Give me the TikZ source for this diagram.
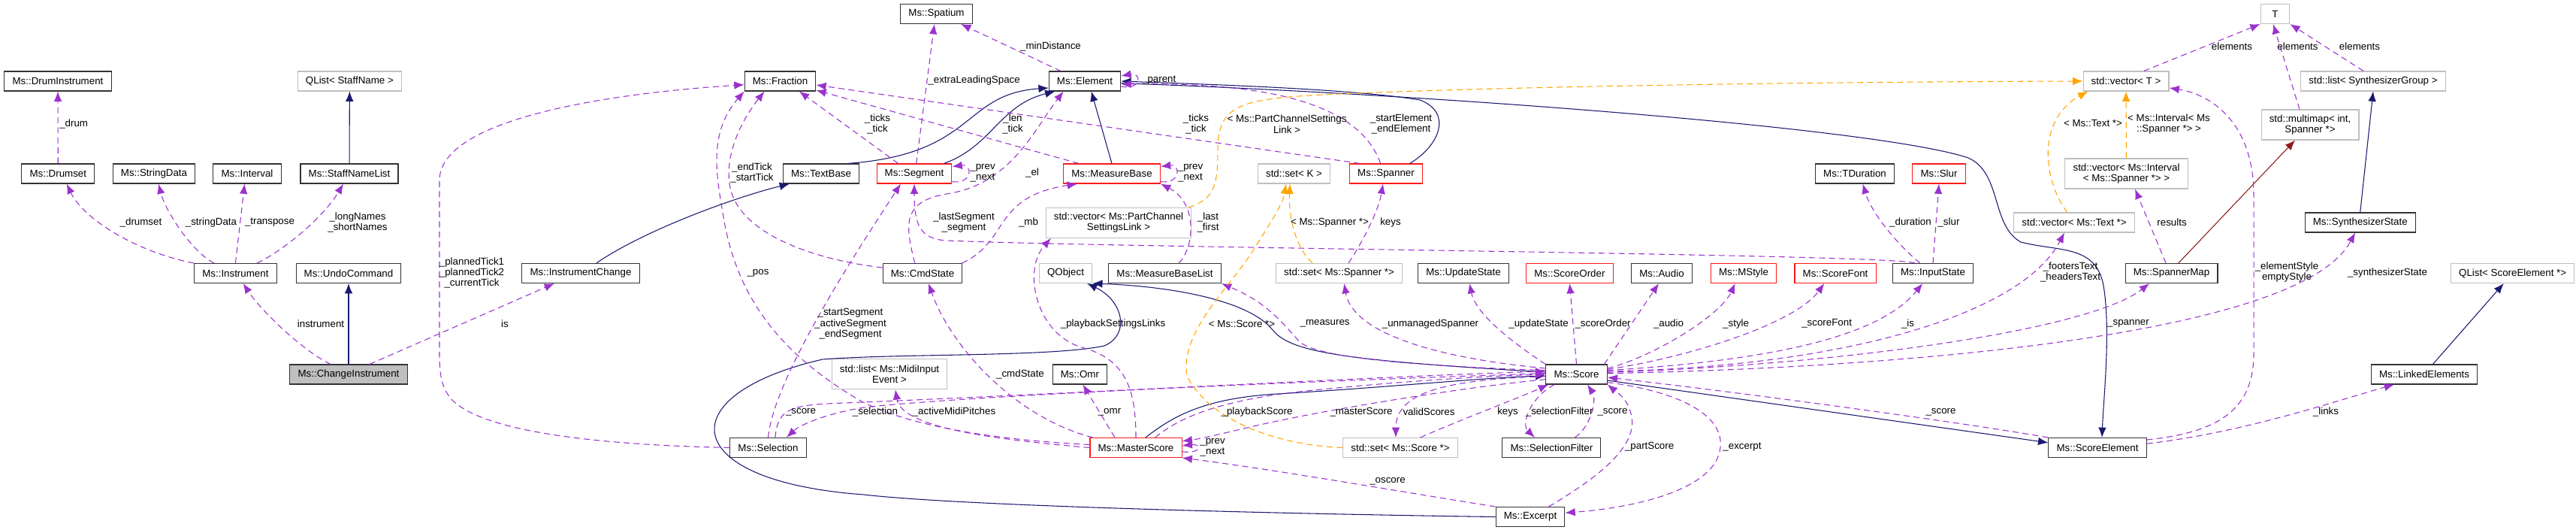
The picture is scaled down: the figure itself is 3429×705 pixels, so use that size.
\documentclass[tikz,border=0pt]{standalone}
\usepackage{fontspec}
\setmainfont{Liberation Sans}
\usepackage{tikz}
\usetikzlibrary{arrows.meta}

\definecolor{relcol}{HTML}{9A32CD}
\definecolor{tplcol}{HTML}{FFA500}
\definecolor{inhcol}{HTML}{191970}
\definecolor{privcol}{HTML}{8B1A1A}

\tikzset{
  cls/.style={draw=black!80, line width=0.8pt, fill=white, inner xsep=8pt, inner ysep=0pt,
    minimum height=19.5pt, align=center, font=\fontsize{10}{10.8}\selectfont},
  clsred/.style={cls, draw=red!90},
  clsext/.style={cls, draw=black!25},
  clsmain/.style={cls, fill=black!25},
  twoline/.style={minimum height=30pt},
  rel/.style={draw=relcol, line width=0.8pt, dash pattern=on 6pt off 4pt, -{Latex[length=10pt,width=8pt]}},
  tpl/.style={rel, draw=tplcol},
  inh/.style={draw=inhcol, line width=0.8pt, -{Latex[length=10pt,width=8pt]}},
  priv/.style={inh, draw=privcol},
  lbl/.style={font=\fontsize{10}{10.8}\selectfont, align=center, inner sep=0pt}
}

\begin{document}
\begin{tikzpicture}[x=0.75pt, y=-0.75pt]
\useasboundingbox (0,0) rectangle (3429,705);
% classi
\node[cls] (drumInstr) at (77,108) {Ms::DrumInstrument};
\node[clsext] (qlistStaff) at (465.4,108) {QList< StaffName >};
\node[cls] (drumset) at (77.3,231) {Ms::Drumset};
\node[cls] (stringData) at (205,231) {Ms::StringData};
\node[cls] (interval) at (329,231) {Ms::Interval};
\node[cls] (staffNameList) at (465,231) {Ms::StaffNameList};
\node[cls] (instrument) at (313.4,363.5) {Ms::Instrument};
\node[cls] (undoCmd) at (464,363.5) {Ms::UndoCommand};
\node[clsmain] (changeInstr) at (464,498) {Ms::ChangeInstrument};
\node[cls] (instrChange) at (773,363.5) {Ms::InstrumentChange};
\node[cls] (fraction) at (1038.5,108) {Ms::Fraction};
\node[cls] (textBase) at (1093,231) {Ms::TextBase};
\node[cls] (selection) at (1022.5,595.5) {Ms::Selection};
\node[cls] (spatium) at (1246.5,18.5) {Ms::Spatium};
\node[cls] (element) at (1444,108) {Ms::Element};
\node[clsred] (segment) at (1217,231) {Ms::Segment};
\node[clsred] (measureBase) at (1480,231) {Ms::MeasureBase};
\node[clsext,twoline] (vecPCSL) at (1489,296.3) {std::vector< Ms::PartChannel\\SettingsLink >};
\node[cls] (cmdState) at (1228,363.5) {Ms::CmdState};
\node[clsext] (qobject) at (1418.5,363.5) {QObject};
\node[cls] (mbList) at (1550.5,363.5) {Ms::MeasureBaseList};
\node[clsext,twoline] (listMidi) at (1184,497.7) {std::list< Ms::MidiInput\\Event >};
\node[cls] (omr) at (1437.4,498) {Ms::Omr};
\node[clsred] (masterScore) at (1512,595.5) {Ms::MasterScore};
\node[clsred] (spanner) at (1845,231) {Ms::Spanner};
\node[clsext] (setK) at (1722.5,231) {std::set< K >};
\node[clsext] (setSpanner) at (1782.5,363.5) {std::set< Ms::Spanner *>};
\node[cls] (updateState) at (1948,363.5) {Ms::UpdateState};
\node[clsred] (scoreOrder) at (2089.4,363.5) {Ms::ScoreOrder};
\node[cls] (audio) at (2212,363.5) {Ms::Audio};
\node[clsred] (mstyle) at (2321,363.5) {Ms::MStyle};
\node[clsred] (scoreFont) at (2443,363.5) {Ms::ScoreFont};
\node[cls] (inputState) at (2573,363.5) {Ms::InputState};
\node[cls] (score) at (2098.5,498) {Ms::Score};
\node[clsext] (setScore) at (1864,595.5) {std::set< Ms::Score *>};
\node[cls] (selFilter) at (2065.4,595.5) {Ms::SelectionFilter};
\node[cls] (excerpt) at (2037,687.5) {Ms::Excerpt};
\node[cls] (tduration) at (2469,231) {Ms::TDuration};
\node[clsred] (slur) at (2581,231) {Ms::Slur};
\node[clsext] (vecText) at (2761,296) {std::vector< Ms::Text *>};
\node[clsext,twoline] (vecInterval) at (2830.5,231) {std::vector< Ms::Interval\\< Ms::Spanner *> >};
\node[clsext] (vecT) at (2830,108) {std::vector< T >};
\node[clsext, minimum width=29pt] (tT) at (3028.5,18.5) {T};
\node[clsext] (listSynth) at (3159,108) {std::list< SynthesizerGroup >};
\node[clsext,twoline] (multimap) at (3075,166) {std::multimap< int,\\Spanner *>};
\node[cls] (spannerMap) at (2890.5,363.5) {Ms::SpannerMap};
\node[cls] (synthState) at (3141.7,296) {Ms::SynthesizerState};
\node[clsext] (qlistSE) at (3344.6,363.5) {QList< ScoreElement *>};
\node[cls] (linkedElems) at (3227,498) {Ms::LinkedElements};
\node[cls] (scoreElem) at (2792,595.5) {Ms::ScoreElement};
% ereditarieta'
\draw[inh] (staffNameList) -- (qlistStaff);
\draw[inh] (changeInstr) -- (undoCmd);
\draw[inh] ([xshift=15.6pt]instrChange.north) .. controls (860,305) and (980,262) .. ([xshift=-31.5pt]textBase.south);
\draw[inh] ([xshift=26.7pt]textBase.north) .. controls (1300,205) and (1280,125) .. ([yshift=-6.75pt]element.west);
\draw[inh] ([xshift=29.6pt]segment.north) .. controls (1320,195) and (1330,140) .. ([xshift=-29.6pt]element.south);
\draw[inh] (measureBase.north) -- ([xshift=6.5pt]element.south);
\draw[inh] ([xshift=23.6pt]spanner.north) .. controls (1915,195) and (1935,150) .. (1890,133) .. controls (1800,118) and (1600,112) .. (element.east);
\draw[inh] ([yshift=-2pt]element.east) .. controls (1900,125) and (2500,170) .. (2620,210) .. controls (2665,230) and (2650,300) .. (2690,322) .. controls (2740,335) and (2790,325) .. (2800,380) .. controls (2810,440) and (2800,530) .. ([xshift=4.5pt]scoreElem.north);
\draw[inh] (excerpt.west) .. controls (1800,685) and (1300,675) .. (1150,658) .. controls (900,640) and (890,525) .. (1095,478) .. controls (1200,470) and (1400,475) .. (1470,460) .. controls (1505,445) and (1495,400) .. ([xshift=21.4pt]qobject.south);
\draw[inh] ([yshift=2.25pt]score.west) .. controls (1800,480) and (1720,470) .. (1695,440) .. controls (1660,395) and (1540,380) .. (qobject.south east);
\draw[inh] ([xshift=9.6pt]masterScore.north) .. controls (1560,555) and (1600,530) .. (1700,524) .. controls (1850,515) and (1980,502) .. ([yshift=-1.5pt]score.west);
\draw[inh] ([yshift=-6pt]score.east) -- ([yshift=5pt]scoreElem.west);
\draw[priv] ([xshift=7pt]spannerMap.north) -- ([xshift=-15pt]multimap.south);
\draw[inh] (synthState.north) -- (listSynth.south);
\draw[inh] ([xshift=8.6pt]linkedElems.north) -- ([xshift=-8.9pt]qlistSE.south);
% relazioni d'uso
\draw[rel] (drumset) -- (drumInstr);
\draw[rel] (instrument.north west) .. controls (180,335) and (110,290) .. ([xshift=8.6pt]drumset.south);
\draw[rel] ([xshift=-21.3pt]instrument.north) .. controls (255,335) and (220,280) .. ([xshift=4.5pt]stringData.south);
\draw[rel] (instrument.north) -- ([xshift=-2.5pt]interval.south);
\draw[rel] ([xshift=21.5pt]instrument.north) .. controls (375,335) and (430,290) .. ([xshift=-6pt]staffNameList.south);
\draw[rel] ([xshift=-18pt]changeInstr.north) .. controls (400,465) and (345,410) .. ([xshift=7.7pt]instrument.south);
\draw[rel] ([xshift=21pt]changeInstr.north) -- ([xshift=-26.3pt]instrChange.south);
\draw[rel] (selection.west) .. controls (800,592) and (640,575) .. (600,530) .. controls (588,515) and (585,500) .. (585,470) -- (585,240) .. controls (585,160) and (800,125) .. ([yshift=-3.5pt]fraction.west);
\draw[rel] ([yshift=5.6pt]cmdState.west) .. controls (1080,345) and (985,310) .. (972,250) .. controls (962,200) and (995,150) .. ([xshift=-15.7pt]fraction.south);
\draw[rel] ([yshift=3pt]masterScore.west) .. controls (1320,585) and (1200,565) .. (1140,530) .. controls (1040,470) and (985,400) .. (965,300) .. controls (955,240) and (940,180) .. (fraction.south west);
\draw[rel] ([xshift=-16pt]segment.north) -- ([xshift=19pt]fraction.south);
\draw[rel] ([xshift=-33pt]measureBase.north) -- ([yshift=-9pt]fraction.east);
\draw[rel] ([xshift=-26pt]spanner.north) -- ([yshift=-3.75pt]fraction.east);
\draw[rel] ([xshift=2pt]segment.north) -- ([xshift=-2pt]spatium.south);
\draw[rel] ([xshift=-24pt]element.north) -- ([xshift=24.4pt]spatium.south);
\draw[rel] ([yshift=-5.25pt]element.east) .. controls (1520,120) and (1520,96) .. ([yshift=5.25pt]element.east);
\draw[rel] ([yshift=-8pt]segment.east) .. controls (1295,245) and (1295,218) .. ([yshift=7pt]segment.east);
\draw[rel] ([yshift=-8pt]measureBase.east) .. controls (1572,245) and (1572,218) .. ([yshift=7pt]measureBase.east);
\draw[rel] ([xshift=-5.5pt]spanner.north) .. controls (1805,125) and (1650,110) .. ([yshift=-3pt]element.east);
\draw[rel] ([xshift=-7.7pt]cmdState.north) .. controls (1205,300) and (1200,268) .. (1260,258) .. controls (1345,245) and (1375,175) .. ([xshift=-21.3pt]element.south);
\draw[rel] ([xshift=39.5pt]cmdState.north) .. controls (1345,320) and (1320,262) .. ([xshift=-34.5pt]measureBase.south);
\draw[rel] ([xshift=-18pt]inputState.north) .. controls (2520,338) and (1500,330) .. (1260,320) .. controls (1225,318) and (1217,300) .. (segment.south);
\draw[rel] ([xshift=13.9pt]mbList.north) .. controls (1590,330) and (1595,270) .. (measureBase.south east);
\draw[rel] (masterScore.north) .. controls (1512,520) and (1500,478) .. (1440,462) .. controls (1380,445) and (1360,360) .. ([xshift=-67.5pt]vecPCSL.south);
\draw[rel] ([xshift=-43pt]masterScore.north) .. controls (1350,555) and (1265,460) .. ([xshift=6pt]cmdState.south);
\draw[rel] ([xshift=-21pt]masterScore.north) -- ([xshift=3pt]omr.south);
\draw[rel] (masterScore.west) .. controls (1330,585) and (1200,570) .. ([xshift=5.9pt]listMidi.south);
\draw[rel] ([yshift=-4pt]masterScore.east) .. controls (1600,604) and (1600,590) .. ([yshift=2pt]masterScore.east);
\draw[rel] ([xshift=19.3pt]masterScore.north) .. controls (1570,555) and (1620,535) .. (1720,522) .. controls (1850,508) and (1980,500) .. (score.west);
\draw[rel] ([yshift=-5pt]score.west) .. controls (1950,515) and (1800,540) .. (1720,556) .. controls (1650,570) and (1610,582) .. ([yshift=6.5pt]masterScore.east);
\draw[rel] (excerpt.north west) .. controls (1900,660) and (1700,625) .. (masterScore.south east);
\draw[rel] ([yshift=1pt]score.west) .. controls (1800,505) and (1300,525) .. (1150,542) .. controls (1100,550) and (1065,565) .. ([xshift=18.4pt]selection.north);
\draw[rel] ([xshift=7pt]selection.north) .. controls (1035,550) and (1045,540) .. (1100,537) .. controls (1400,525) and (1850,500) .. ([yshift=3pt]score.west);
\draw[rel] (selection.north) .. controls (1030,500) and (1150,320) .. ([xshift=-13.5pt]segment.south);
\draw[rel] ([yshift=4pt]score.west) .. controls (1900,487) and (1760,478) .. (1730,455) .. controls (1700,420) and (1680,400) .. (mbList.south east);
\draw[rel] ([yshift=6pt]score.west) .. controls (1900,475) and (1800,440) .. ([xshift=5pt]setSpanner.south);
\draw[rel] (score.north west) .. controls (2020,460) and (1965,420) .. ([xshift=6pt]updateState.south);
\draw[rel] (score.north) -- (scoreOrder.south);
\draw[rel] ([xshift=27.75pt]score.north) -- ([xshift=-3pt]audio.south);
\draw[rel] ([yshift=6pt]score.east) .. controls (2200,475) and (2290,420) .. ([xshift=-8.5pt]mstyle.south);
\draw[rel] ([yshift=5pt]score.east) .. controls (2250,475) and (2390,430) .. ([xshift=-11pt]scoreFont.south);
\draw[rel] ([yshift=4pt]score.east) .. controls (2350,480) and (2500,450) .. ([xshift=-10.3pt]inputState.south);
\draw[rel] ([yshift=3pt]score.east) .. controls (2450,488) and (2690,420) .. ([xshift=-9.75pt]vecText.south);
\draw[rel] ([yshift=2pt]score.east) .. controls (2450,485) and (2780,440) .. ([xshift=-22pt]spannerMap.south);
\draw[rel] ([yshift=1pt]score.east) .. controls (2500,490) and (3060,450) .. ([xshift=-5pt]synthState.south);
\draw[rel] (scoreElem.north west) .. controls (2600,560) and (2300,520) .. ([yshift=-3pt]score.east);
\draw[rel] ([yshift=-8pt]score.east) .. controls (2230,520) and (2295,550) .. (2290,595) .. controls (2285,650) and (2180,675) .. ([yshift=4pt]excerpt.east);
\draw[rel] ([xshift=18.4pt]excerpt.north) .. controls (2110,645) and (2180,600) .. (2172,555) .. controls (2168,530) and (2150,520) .. (score.south east);
\draw[rel] ([xshift=-22pt]score.south) .. controls (2035,530) and (2025,565) .. ([xshift=-16.8pt]selFilter.north);
\draw[rel] ([xshift=23.3pt]selFilter.north) .. controls (2120,565) and (2125,530) .. ([xshift=10.9pt]score.south);
\draw[rel] ([xshift=20pt]setScore.north) .. controls (1940,560) and (2020,530) .. ([xshift=-28pt]score.south);
\draw[rel] ([yshift=-2pt]score.west) .. controls (1930,505) and (1858,520) .. ([xshift=-4.5pt]setScore.north);
\draw[rel] ([xshift=9.4pt]setSpanner.north) .. controls (1815,320) and (1835,280) .. ([xshift=-3pt]spanner.south);
\draw[rel] ([xshift=-13pt]inputState.north) .. controls (2520,320) and (2490,280) .. ([xshift=8pt]tduration.south);
\draw[rel] (inputState.north) -- (slur.south);
\draw[rel] ([xshift=-5.6pt]spannerMap.north) -- ([xshift=8.6pt]vecInterval.south);
\draw[rel] ([xshift=17.8pt]vecT.north) -- (tT.south west);
\draw[rel] ([xshift=-10.5pt]multimap.north) -- ([xshift=-2pt]tT.south);
\draw[rel] ([xshift=-9.75pt]listSynth.north) -- (tT.south east);
\draw[rel] ([yshift=7.9pt]scoreElem.east) .. controls (2960,575) and (3000,540) .. (3000,470) -- (3000,260) .. controls (3000,160) and (2940,125) .. ([yshift=-6.75pt]vecT.east);
\draw[rel] ([yshift=4pt]scoreElem.east) .. controls (2990,575) and (3120,530) .. ([xshift=-30pt]linkedElems.south);
% istanze di template
\draw[tpl] ([xshift=-3pt]vecPCSL.north east) .. controls (1615,265) and (1621,250) .. (1621,200) .. controls (1621,140) and (1650,132) .. (1760,126) .. controls (2000,115) and (2400,109) .. (vecT.west);
\draw[tpl] (setScore.west) .. controls (1700,592) and (1610,560) .. (1580,500) .. controls (1570,440) and (1640,380) .. (1670,330) .. controls (1695,290) and (1708,270) .. ([xshift=-8pt]setK.south);
\draw[tpl] ([xshift=-26.6pt]setSpanner.north) .. controls (1725,330) and (1715,290) .. ([xshift=-4pt]setK.south);
\draw[tpl] ([xshift=-7pt]vecText.north) .. controls (2720,240) and (2710,160) .. ([xshift=-38pt]vecT.south);
\draw[tpl] (vecInterval.north) -- (vecT.south);
% etichette
\node[lbl, anchor=west] (lDrum) at (79,165) {\_drum};
\node[lbl] (lDrumset) at (187.5,296) {\_drumset};
\node[lbl] (lStringData) at (281,296) {\_stringData};
\node[lbl] (lTranspose) at (359,296) {\_transpose};
\node[lbl] (lNames) at (476,296) {\_longNames\\\_shortNames};
\node[lbl] (lInstrument) at (427,431) {instrument};
\node[lbl] (lIs) at (672,431) {is};
\node[lbl] (lPlanned) at (628,363) {\_plannedTick1\\\_plannedTick2\\\_currentTick};
\node[lbl] (lStartTick) at (1001,230) {\_endTick\\\_startTick};
\node[lbl] (lPos) at (1009,363) {\_pos};
\node[lbl] (lSelSeg) at (1132,431) {\_startSegment\\\_activeSegment\\\_endSegment};
\node[lbl] (lSelScore) at (1066,548) {\_score};
\node[lbl] (lSelection) at (1165,548) {\_selection};
\node[lbl] (lSegTicks) at (1168,165) {\_ticks\\\_tick};
\node[lbl] (lExtra) at (1296.6,107) {\_extraLeadingSpace};
\node[lbl] (lMinDist) at (1398.5,62) {\_minDistance};
\node[lbl] (lParent) at (1542.7,107) {\_parent};
\node[lbl] (lMbLen) at (1348,165) {\_len\\\_tick};
\node[lbl] (lSegPrev) at (1308,230) {\_prev\\\_next};
\node[lbl] (lEl) at (1374,230) {\_el};
\node[lbl] (lMbPrev) at (1584.5,230) {\_prev\\\_next};
\node[lbl] (lLastSeg) at (1283,296) {\_lastSegment\\\_segment};
\node[lbl] (lMb) at (1369,296) {\_mb};
\node[lbl] (lLast) at (1608,296) {\_last\\\_first};
\node[lbl] (lSpTicks) at (1592,165) {\_ticks\\\_tick};
\node[lbl] (lPCSL) at (1713,165) {< Ms::PartChannelSettings\\Link >};
\node[lbl] (lStartEl) at (1865,165) {\_startElement\\\_endElement};
\node[lbl] (lSpannerTpl) at (1770,296) {< Ms::Spanner *>};
\node[lbl] (lKeysSp) at (1851,296) {keys};
\node[lbl] (lPlaybackLinks) at (1481.5,431) {\_playbackSettingsLinks};
\node[lbl] (lScoreTpl) at (1653,431) {< Ms::Score *>};
\node[lbl] (lCmdState) at (1358,497.7) {\_cmdState};
\node[lbl] (lMidi) at (1270,548) {\_activeMidiPitches};
\node[lbl] (lOmr) at (1477,548) {\_omr};
\node[lbl] (lPlaybackScore) at (1673,548) {\_playbackScore};
\node[lbl] (lMsPrev) at (1614,595) {\_prev\\\_next};
\node[lbl] (lOscore) at (1847,640.7) {\_oscore};
\node[lbl] (lMeasures) at (1763.6,430.7) {\_measures};
\node[lbl] (lUnmanaged) at (1904,430.7) {\_unmanagedSpanner};
\node[lbl] (lUpdate) at (2048,430.7) {\_updateState};
\node[lbl] (lOrder) at (2133.6,430.7) {\_scoreOrder};
\node[lbl] (lAudio) at (2221,430.7) {\_audio};
\node[lbl] (lStyle) at (2310.6,430.7) {\_style};
\node[lbl] (lFont) at (2431.6,430.7) {\_scoreFont};
\node[lbl] (lIsState) at (2539.5,430.7) {\_is};
\node[lbl] (lTexts) at (2756,362) {\_footersText\\\_headersText};
\node[lbl] (lSpanner) at (2833,430.7) {\_spanner};
\node[lbl] (lMaster) at (1812,548) {\_masterScore};
\node[lbl] (lValid) at (1902,548) {validScores};
\node[lbl] (lKeysSc) at (2007,548) {keys};
\node[lbl] (lSelFilter) at (2075.7,548) {\_selectionFilter};
\node[lbl] (lFilterScore) at (2146.5,548) {\_score};
\node[lbl] (lPartScore) at (2195.6,594.3) {\_partScore};
\node[lbl] (lExcerpt) at (2319,594.3) {\_excerpt};
\node[lbl] (lElScore) at (2583.5,548) {\_score};
\node[lbl] (lDuration) at (2543,296) {\_duration};
\node[lbl] (lSlur) at (2594,296) {\_slur};
\node[lbl] (lTextTpl) at (2786,164) {< Ms::Text *>};
\node[lbl] (lIntTpl) at (2887,165) {< Ms::Interval< Ms\\::Spanner *> >};
\node[lbl] (lResults) at (2891,296) {results};
\node[lbl] (lElemA) at (2971,62) {elements};
\node[lbl] (lElemB) at (3058.5,62) {elements};
\node[lbl] (lElemC) at (3141,62) {elements};
\node[lbl] (lStyleVec) at (3044,362) {\_elementStyle\\emptyStyle};
\node[lbl] (lSynth) at (3178,362.7) {\_synthesizerState};
\node[lbl] (lLinks) at (3096,548) {\_links};
\end{tikzpicture}
\end{document}
